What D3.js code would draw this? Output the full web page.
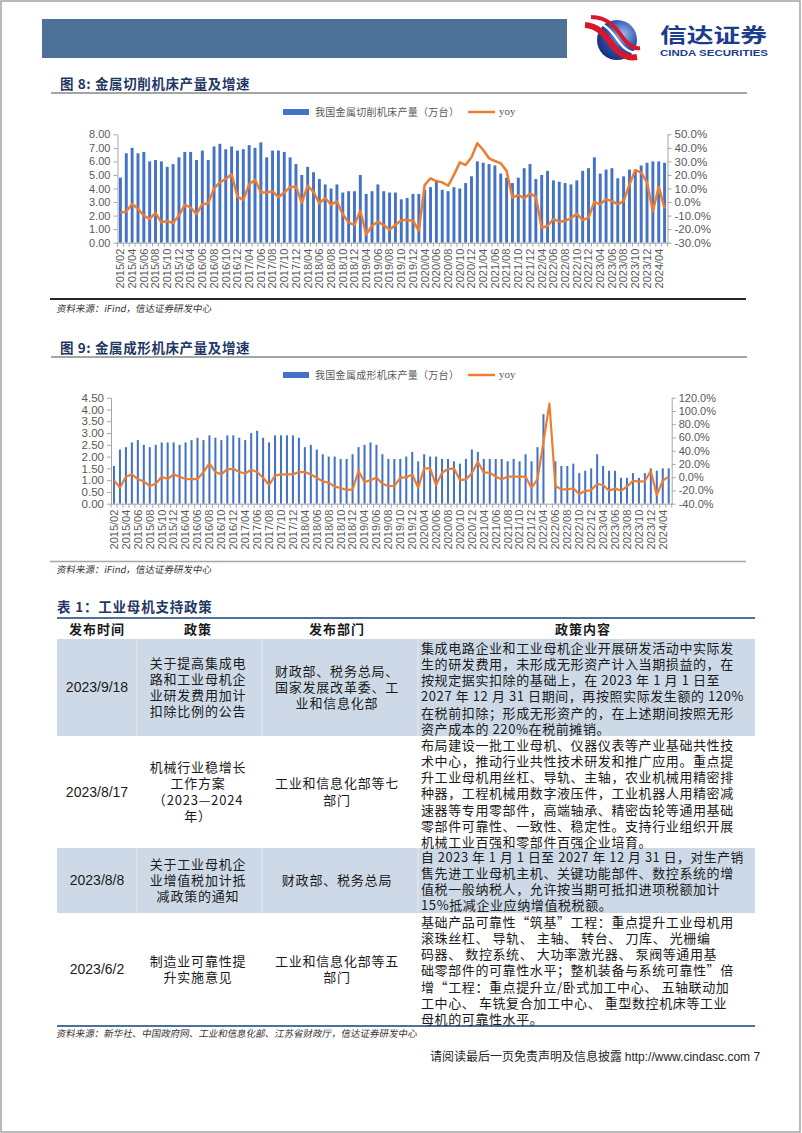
<!DOCTYPE html>
<html>
<head>
<meta charset="utf-8">
<script src="https://cdn.jsdelivr.net/npm/d3@7"></script>
<style>
  body { margin: 0; background: #fff; }
  svg { display: block; }
</style>
</head>
<body>
<svg id="page" width="802" height="1133"></svg>
<script>
// ---- data ----
const months = [
    "2015/02", "2015/03", "2015/04", "2015/05", "2015/06", "2015/07", "2015/08", "2015/09", "2015/10", "2015/11", "2015/12",
    "2016/03", "2016/04", "2016/05", "2016/06", "2016/07", "2016/08", "2016/09", "2016/10", "2016/11", "2016/12",
    "2017/03", "2017/04", "2017/05", "2017/06", "2017/07", "2017/08", "2017/09", "2017/10", "2017/11", "2017/12",
    "2018/03", "2018/04", "2018/05", "2018/06", "2018/07", "2018/08", "2018/09", "2018/10", "2018/11", "2018/12",
    "2019/03", "2019/04", "2019/05", "2019/06", "2019/07", "2019/08", "2019/09", "2019/10", "2019/11", "2019/12",
    "2020/03", "2020/04", "2020/05", "2020/06", "2020/07", "2020/08", "2020/09", "2020/10", "2020/11", "2020/12",
    "2021/03", "2021/04", "2021/05", "2021/06", "2021/07", "2021/08", "2021/09", "2021/10", "2021/11", "2021/12",
    "2022/03", "2022/04", "2022/05", "2022/06", "2022/07", "2022/08", "2022/09", "2022/10", "2022/11", "2022/12",
    "2023/03", "2023/04", "2023/05", "2023/06", "2023/07", "2023/08", "2023/09", "2023/10", "2023/11", "2023/12",
    "2024/03", "2024/04", "2024/05"
];

// 金属切削机床产量（万台）
const cuttingOutput = [
    4.8, 6.6, 7.0, 6.6, 6.7, 6.0, 6.1, 6.0, 5.6, 5.8, 6.3,
    6.7, 6.7, 6.1, 6.8, 6.1, 7.1, 7.3, 6.9, 7.1, 6.8,
    6.9, 7.2, 7.0, 7.4, 6.3, 6.8, 6.8, 6.7, 6.3, 5.8,
    5.0, 5.6, 5.2, 4.7, 4.3, 4.0, 4.3, 3.7, 3.8, 3.8,
    5.0, 3.6, 3.8, 4.3, 3.8, 3.7, 3.7, 3.2, 3.3, 3.6,
    3.6, 3.9, 4.1, 4.5, 3.9, 3.8, 4.1, 4.0, 4.4, 4.9,
    6.0, 5.9, 5.8, 5.7, 5.1, 4.8, 4.4, 4.8, 5.5, 5.8,
    4.7, 5.0, 5.3, 4.6, 4.5, 4.4, 4.3, 4.6, 5.3, 5.5,
    6.3, 5.1, 5.4, 5.5, 4.75, 4.9, 5.4, 5.3, 5.7, 5.9,
    6.0, 6.0, 5.9
];
const cuttingYoy = [
    -8, -7, -1.5, -5, -10, -12.5, -8, -15, -14, -15.5, -10,
    -2, -4, -9, -1.5, -1, 10, 14.5, 17, 20.5, 4,
    1.5, 13, 16.5, 7, 7, 8, 3.5, 7, 11, 11.5,
    -0.5, 12, 7.5, -1, 3, -2, 0.5, -9, -15, -17,
    -6.5, -24, -17.5, -14.5, -17, -20.5, -17, -13.5, -13, -14,
    -21, 12.6, 17.5, 15.5, 14.5, 12, 20, 29.3, 27.3, 33,
    43.4, 38.4, 32.3, 30.3, 28.6, 23, 3.2, 5.2, 2.7, 6.2,
    4, -19, -17.7, -12.6, -14.5, -13.8, -12, -8.6, -13.3, -11.6,
    0.2, -1.7, 2.2, 0.7, -1.7, 0.7, 13, 23.6, 21.7, 14.5,
    -6.7, 11.3, -4.7
];

// 金属成形机床产量（万台）; 2022/05 shows no bar
const formingOutput = [
    1.6, 2.3, 2.4, 2.6, 2.7, 2.5, 2.4, 2.5, 2.6, 2.6, 2.6,
    2.5, 2.6, 2.7, 2.8, 2.7, 2.9, 2.8, 2.7, 2.9, 2.9,
    2.8, 2.7, 3.0, 3.1, 2.8, 2.6, 2.9, 2.9, 2.9, 2.9,
    2.8, 2.4, 2.5, 2.3, 2.1, 2.0, 2.0, 1.9, 1.9, 2.1,
    2.4, 2.5, 2.6, 2.5, 2.1, 1.9, 1.9, 1.9, 2.0, 2.2,
    1.8, 2.1, 2.0, 2.0, 1.9, 1.9, 1.8, 1.7, 1.9, 2.3,
    2.2, 1.9, 1.9, 1.9, 1.9, 1.8, 1.9, 1.8, 2.1, 1.8,
    2.4, 3.8, null, 1.8, 1.6, 1.6, 1.7, 1.3, 1.4, 1.5,
    2.1, 1.6, 1.4, 1.4, 1.1, 1.1, 1.3, 1.1, 1.3, 1.5,
    1.4, 1.5, 1.5
];
const formingYoy = [
    -4.8, -15.8, 0.8, 4.3, -2.8, -6.3, -13.3, -9.8, 0.8, -2.8, 4.3,
    0.8, -2.8, -2.8, -2.8, 7.8, 20.9, 7.8, 4.3, 12.3, 12.3,
    8.3, 5.3, 11.3, 7.8, -0.8, -11.8, 2.3, 4.3, 4.3, 4.3,
    7.8, 7.8, 4.3, -0.8, -6.3, -8.3, -14.3, -16.3, -19.4, -18.4,
    9.3, -7.3, -4.8, -0.3, -9.8, -13.3, -13.3, -1, 0, 4,
    -16, 13.3, 13.3, -11.8, 6.8, 12.3, 13.3, -4.3, -3.3, 5.8,
    23.4, 6.8, 6.8, 0.8, -3.2, 0.8, 0.8, 0.8, 0.8, -15.8,
    -3.2, 53, 111, -13.3, -18.4, -18.4, -16.9, -25.4, -20.9, -19.4,
    -10.3, -11.8, -20.4, -16.9, -20.4, -14.3, -5.3, -6.8, -5.8, 9.3,
    -26.9, -5.3, 0.8
];

const cuttingLeftTicks = [0, 1, 2, 3, 4, 5, 6, 7, 8];
const cuttingRightTicks = [-30, -20, -10, 0, 10, 20, 30, 40, 50];
const formingLeftTicks = [0, 0.5, 1, 1.5, 2, 2.5, 3, 3.5, 4, 4.5];
const formingRightTicks = [-40, -20, 0, 20, 40, 60, 80, 100, 120];

// 表 1
const tableHeaders = ["发布时间", "政策", "发布部门", "政策内容"];
const policyDates = ["2023/9/18", "2023/8/17", "2023/8/8", "2023/6/2"];
const policyNames = [
    ["关于提高集成电", "路和工业母机企", "业研发费用加计", "扣除比例的公告"],
    ["机械行业稳增长", "工作方案", "（2023—2024", "年）"],
    ["关于工业母机企", "业增值税加计抵", "减政策的通知"],
    ["制造业可靠性提", "升实施意见"]
];
const policyDepts = [
    ["财政部、税务总局、", "国家发展改革委、工", "业和信息化部"],
    ["工业和信息化部等七", "部门"],
    ["财政部、税务总局"],
    ["工业和信息化部等五", "部门"]
];
const policyContents = [
    ["集成电路企业和工业母机企业开展研发活动中实际发",
     "生的研发费用，未形成无形资产计入当期损益的，在",
     "按规定据实扣除的基础上，在 2023 年 1 月 1 日至",
     "2027 年 12 月 31 日期间，再按照实际发生额的 120%",
     "在税前扣除；形成无形资产的，在上述期间按照无形",
     "资产成本的 220%在税前摊销。"],
    ["布局建设一批工业母机、仪器仪表等产业基础共性技",
     "术中心，推动行业共性技术研发和推广应用。重点提",
     "升工业母机用丝杠、导轨、主轴，农业机械用精密排",
     "种器，工程机械用数字液压件，工业机器人用精密减",
     "速器等专用零部件，高端轴承、精密齿轮等通用基础",
     "零部件可靠性、一致性、稳定性。支持行业组织开展",
     "机械工业百强和零部件百强企业培育。"],
    ["自 2023 年 1 月 1 日至 2027 年 12 月 31 日，对生产销",
     "售先进工业母机主机、关键功能部件、数控系统的增",
     "值税一般纳税人，允许按当期可抵扣进项税额加计",
     "15%抵减企业应纳增值税税额。"],
    ["基础产品可靠性“筑基”工程：重点提升工业母机用",
     "滚珠丝杠、 导轨、 主轴、 转台、 刀库、 光栅编",
     "码器、 数控系统、 大功率激光器、 泵阀等通用基",
     "础零部件的可靠性水平；整机装备与系统可靠性”倍",
     "增“工程：重点提升立/卧式加工中心、 五轴联动加",
     "工中心、 车铣复合加工中心、 重型数控机床等工业",
     "母机的可靠性水平。"]
];

// ---- page ----
const CJK = "'Noto Sans CJK SC', sans-serif";
const LATIN = "'Liberation Sans', Arial, sans-serif";
const barColour = "#4472c4";
const lineColour = "#ed7d31";
const axisGrey = "#a6a6a6";
const textGrey = "#595959";
const titleColour = "#1f3864";

const svg = d3.select("#page");
svg.append("rect").attr("width", 802).attr("height", 1133).attr("fill", "#fff");
svg.append("rect")
    .attr("x", 1).attr("y", 1).attr("width", 799).attr("height", 1131)
    .attr("fill", "none").attr("stroke", "#8c8c8c").attr("stroke-width", 1.2);

// header banner + logo
svg.append("rect")
    .attr("x", 42).attr("y", 19).attr("width", 525).attr("height", 39)
    .attr("fill", "#4e7198");

const defs = svg.append("defs");
const logoGrad = defs.append("radialGradient").attr("id", "logo-grad")
    .attr("cx", "65%").attr("cy", "35%").attr("r", "70%");
logoGrad.append("stop").attr("offset", "0%").style("stop-color", "#9db7e6");
logoGrad.append("stop").attr("offset", "55%").style("stop-color", "#2d55b0");
logoGrad.append("stop").attr("offset", "100%").style("stop-color", "#182f7a");

const logo = svg.append("g");
logo.append("circle").attr("cx", 617).attr("cy", 40).attr("r", 20).attr("fill", "url(#logo-grad)");
logo.append("path")
    .attr("d", "M585,25 C600,26 606,37 613,46 C619,54 626,59 637,57")
    .attr("fill", "none").attr("stroke", "#d7182a").attr("stroke-width", 6);
logo.append("path")
    .attr("d", "M589,20 C604,21 612,32 619,42 C625,50 631,54 639,52")
    .attr("fill", "none").attr("stroke", "#fff").attr("stroke-width", 2.2);
logo.append("path")
    .attr("d", "M591,17 C608,17 616,28 623,38 C629,46 634,49 640,48")
    .attr("fill", "none").attr("stroke", "#d7182a").attr("stroke-width", 4);

svg.append("text")
    .attr("x", 660).attr("y", 43)
    .attr("textLength", 107).attr("lengthAdjust", "spacingAndGlyphs")
    .attr("font-family", CJK).attr("font-weight", "bold").attr("font-size", 20)
    .attr("fill", "#1c3c8c")
    .text("信达证券");
svg.append("text")
    .attr("x", 660).attr("y", 56)
    .attr("textLength", 108).attr("lengthAdjust", "spacingAndGlyphs")
    .attr("font-family", LATIN).attr("font-weight", "bold").attr("font-size", 9.5)
    .attr("fill", "#1c3c8c")
    .text("CINDA SECURITIES");

// section titles
const sectionTitle = (label, y, lineY) => {
    svg.append("text")
        .attr("x", 60).attr("y", y)
        .attr("dy", "0.35em")
        .attr("font-family", CJK).attr("font-weight", "bold").attr("font-size", 13.5)
        .style("letter-spacing", "0.6px")
        .attr("fill", titleColour)
        .text(label);
    svg.append("line")
        .attr("x1", 51).attr("x2", 747).attr("y1", lineY).attr("y2", lineY)
        .attr("stroke", "#a5a5a5").attr("stroke-width", 2);
};
const sourceNote = (label, y) => {
    svg.append("text")
        .attr("x", 57).attr("y", y)
        .attr("dy", "0.35em")
        .attr("font-family", CJK).attr("font-size", 9.5)
        .attr("fill", "#333")
        .attr("transform", `translate(${y * 0.176},0) skewX(-10)`)
        .text(label);
};

sectionTitle("图 8: 金属切削机床产量及增速", 84, 93);
sectionTitle("图 9: 金属成形机床产量及增速", 348, 357);

// combo chart
const drawCombo = cfg => {
    const g = svg.append("g");
    const x = d3.scaleBand().domain(months).range([cfg.left, cfg.right]).padding(0);
    const y = d3.scaleLinear().domain(cfg.leftDomain).range([cfg.bottom, cfg.top]);
    const yR = d3.scaleLinear().domain(cfg.rightDomain).range([cfg.bottom, cfg.top]);
    const bw = x.step() * cfg.barRatio;

    g.selectAll(".bar")
        .data(cfg.bars.map((v, i) => [months[i], v]).filter(d => d[1] !== null))
        .join("rect")
        .attr("class", "bar")
        .attr("x", d => x(d[0]) + (x.step() - bw) / 2)
        .attr("y", d => y(d[1]))
        .attr("width", bw)
        .attr("height", d => y(0) - y(d[1]))
        .attr("fill", barColour);

    const styleAxis = (sel, fontSize) => {
        sel.select(".domain").attr("stroke", axisGrey);
        sel.selectAll(".tick line").attr("stroke", axisGrey);
        sel.selectAll(".tick text")
            .attr("fill", textGrey)
            .attr("font-family", LATIN)
            .attr("font-size", fontSize);
    };

    // x axis with rotated labels
    const xAxis = g.append("g")
        .attr("transform", `translate(0,${cfg.bottom})`)
        .call(d3.axisBottom(x).tickValues(months.filter((d, i) => i % 2 === 0)).tickSize(0).tickSizeOuter(0));
    styleAxis(xAxis, 11);
    xAxis.selectAll(".tick text")
        .attr("transform", "rotate(-90)")
        .attr("x", -6)
        .attr("y", 0)
        .attr("dy", "0.35em")
        .attr("text-anchor", "end");
    g.selectAll(".xtick")
        .data(months.concat([null]))
        .join("line")
        .attr("class", "xtick")
        .attr("x1", d => d === null ? cfg.right : x(d))
        .attr("x2", d => d === null ? cfg.right : x(d))
        .attr("y1", cfg.bottom)
        .attr("y2", cfg.bottom + 4)
        .attr("stroke", axisGrey);

    const leftAxis = g.append("g")
        .attr("transform", `translate(${cfg.left},0)`)
        .call(d3.axisLeft(y).tickValues(cfg.leftTicks).tickFormat(d3.format(".2f")).tickSize(4).tickSizeOuter(0));
    styleAxis(leftAxis, cfg.leftFont);

    const rightAxis = g.append("g")
        .attr("transform", `translate(${cfg.right},0)`)
        .call(d3.axisRight(yR).tickValues(cfg.rightTicks).tickFormat(d => d.toFixed(1) + "%").tickSize(4).tickSizeOuter(0));
    styleAxis(rightAxis, cfg.rightFont);

    const line = d3.line()
        .x((d, i) => x(months[i]) + x.step() / 2)
        .y(d => yR(d));
    g.append("path")
        .datum(cfg.yoy)
        .attr("d", line)
        .attr("fill", "none")
        .attr("stroke", lineColour)
        .attr("stroke-width", cfg.lineWidth)
        .attr("stroke-linejoin", "round");

    // legend
    const lg = g.append("g").attr("transform", `translate(0,${cfg.legendY})`);
    lg.append("rect").attr("x", 283).attr("y", -3).attr("width", 26).attr("height", 6).attr("fill", barColour);
    lg.append("text")
        .attr("x", 315).attr("y", 0).attr("dy", "0.35em")
        .attr("font-family", CJK).attr("font-size", 10).attr("fill", textGrey)
        .style("letter-spacing", "0.3px")
        .text(cfg.legendLabel);
    lg.append("line").attr("x1", 468).attr("x2", 495).attr("y1", 0).attr("y2", 0)
        .attr("stroke", lineColour).attr("stroke-width", 2.5);
    lg.append("text")
        .attr("x", 499).attr("y", 0).attr("dy", "0.3em")
        .attr("font-family", "'Liberation Serif', serif").attr("font-size", 11).attr("fill", textGrey)
        .text("yoy");
};

drawCombo({
    left: 117.5, right: 667.5, top: 134.3, bottom: 242.7,
    leftDomain: [0, 8], rightDomain: [-30, 50],
    leftTicks: cuttingLeftTicks, rightTicks: cuttingRightTicks,
    bars: cuttingOutput, yoy: cuttingYoy,
    barRatio: 0.5, lineWidth: 2.5, leftFont: 11, rightFont: 11.5,
    legendY: 112, legendLabel: "我国金属切削机床产量（万台）"
});
svg.append("line").attr("x1", 50).attr("x2", 746).attr("y1", 299).attr("y2", 299)
    .attr("stroke", "#262626").attr("stroke-width", 2);
sourceNote("资料来源：iFind，信达证券研发中心", 309);

drawCombo({
    left: 111, right: 671.7, top: 397.7, bottom: 503.7,
    leftDomain: [0, 4.5], rightDomain: [-40, 120],
    leftTicks: formingLeftTicks, rightTicks: formingRightTicks,
    bars: formingOutput, yoy: formingYoy,
    barRatio: 0.34, lineWidth: 2.2, leftFont: 11.5, rightFont: 11,
    legendY: 375, legendLabel: "我国金属成形机床产量（万台）"
});
svg.append("line").attr("x1", 50).attr("x2", 746).attr("y1", 561.5).attr("y2", 561.5)
    .attr("stroke", "#a5a5a5").attr("stroke-width", 1.5);
sourceNote("资料来源：iFind，信达证券研发中心", 570);

// ---- table ----
svg.append("text")
    .attr("x", 57).attr("y", 607).attr("dy", "0.35em")
    .attr("font-family", CJK).attr("font-weight", "bold").attr("font-size", 13.5)
    .style("letter-spacing", "0.8px")
    .attr("fill", titleColour)
    .text("表 1：工业母机支持政策");

const tableLeft = 57, tableRight = 755;
const colEdges = [tableLeft, 137, 262, 418, tableRight];
const colCentres = [97, 198, 337];
const rowEdges = [639, 736, 848, 913, 1026];
const lineGap = 16.3;
const contentLeft = 421, contentWidth = 323;
const shade = "#cdd9e6";
const bodyColour = "#1a1a1a";

const table = svg.append("g");
rowEdges.slice(0, 4).forEach((top, r) => {
    if (r % 2 === 0) {
        table.append("rect")
            .attr("x", tableLeft).attr("y", top)
            .attr("width", tableRight - tableLeft).attr("height", rowEdges[r + 1] - top)
            .attr("fill", shade);
        colEdges.slice(1, 4).forEach(cx => {
            table.append("line")
                .attr("x1", cx).attr("x2", cx).attr("y1", top).attr("y2", rowEdges[r + 1])
                .attr("stroke", "#fff").attr("stroke-opacity", 0.5);
        });
    }
});
table.append("line").attr("x1", tableLeft).attr("x2", tableRight).attr("y1", 618).attr("y2", 618)
    .attr("stroke", "#4e7198").attr("stroke-width", 1.8);
table.append("line").attr("x1", tableLeft).attr("x2", tableRight).attr("y1", 1026).attr("y2", 1026)
    .attr("stroke", "#4e7198").attr("stroke-width", 1.8);

const headerCentres = [97, 198, 337, 583];
table.selectAll(".th")
    .data(tableHeaders)
    .join("text")
    .attr("class", "th")
    .attr("x", (d, i) => headerCentres[i])
    .attr("y", 629).attr("dy", "0.35em")
    .attr("text-anchor", "middle")
    .attr("font-family", CJK).attr("font-weight", "bold").attr("font-size", 13)
    .style("letter-spacing", "1px")
    .attr("fill", bodyColour)
    .text(d => d);

// one <text> per cell, one <tspan> per line
const cellText = (lines, x, firstY, anchor, spacing) => {
    const t = table.append("text")
        .attr("font-family", CJK).attr("font-size", 13)
        .attr("text-anchor", anchor)
        .style("letter-spacing", spacing)
        .attr("fill", bodyColour);
    lines.forEach((line, k) => {
        t.append("tspan")
            .attr("x", x)
            .attr("y", firstY + k * lineGap + 4.5)
            .text(line);
    });
    return t;
};

policyDates.forEach((d, r) => {
    const mid = (rowEdges[r] + rowEdges[r + 1]) / 2;
    table.append("text")
        .attr("x", colCentres[0]).attr("y", mid).attr("dy", "0.35em")
        .attr("text-anchor", "middle")
        .attr("font-family", LATIN).attr("font-size", 14)
        .attr("fill", bodyColour)
        .text(d);
    const nameStart = mid - (policyNames[r].length - 1) * lineGap / 2;
    cellText(policyNames[r], colCentres[1], nameStart, "middle", "0.8px");
    const deptStart = mid - (policyDepts[r].length - 1) * lineGap / 2;
    cellText(policyDepts[r], colCentres[2], deptStart, "middle", "0.8px");
    const content = cellText(policyContents[r], contentLeft, rowEdges[r] + 9, "start", "0.6px");
    // keep long lines inside the column
    content.selectAll("tspan").each(function () {
        if (this.getComputedTextLength() > contentWidth) {
            d3.select(this).attr("textLength", contentWidth).attr("lengthAdjust", "spacingAndGlyphs");
        }
    });
});

sourceNote("资料来源：新华社、中国政府网、工业和信息化部、江苏省财政厅，信达证券研发中心", 1034);

// footer
svg.append("text")
    .attr("x", 430).attr("y", 1057).attr("dy", "0.35em")
    .attr("font-family", CJK).attr("font-size", 12)
    .attr("fill", "#262626")
    .text("请阅读最后一页免责声明及信息披露 ")
    .append("tspan")
    .attr("font-family", LATIN)
    .text("http://www.cindasc.com 7");
</script>
</body>
</html>
